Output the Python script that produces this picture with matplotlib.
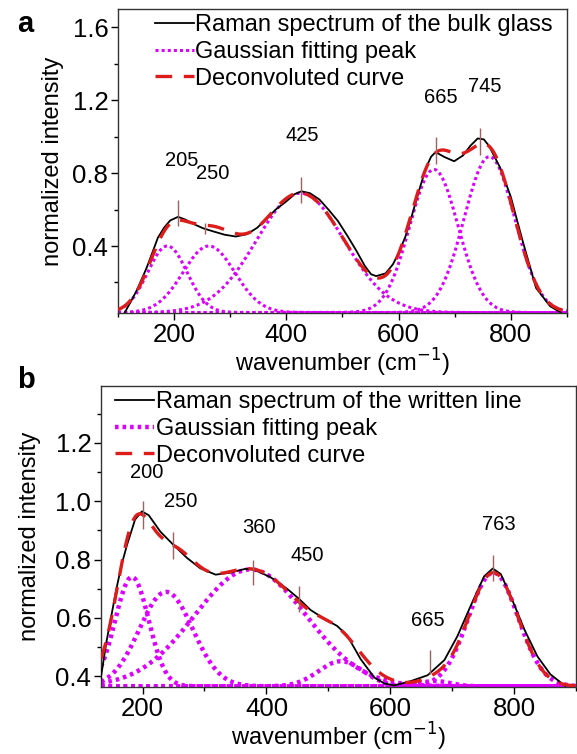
import numpy as np
import matplotlib.pyplot as plt
from matplotlib.ticker import MultipleLocator
from matplotlib.lines import Line2D

plt.rcParams['font.family'] = ['Liberation Sans', 'DejaVu Sans']

# ---- panel a: bulk glass ----
raman_a_x = [112, 122, 134, 151, 162, 171, 182, 193, 207, 220, 235, 252, 270, 290, 310, 330,
             348, 365, 381, 400, 415, 427, 442, 459, 475, 492, 510, 525, 540, 551, 560, 577,
             590, 600, 612, 624, 637, 649, 658, 666, 682, 699, 715, 728, 741, 752, 761, 771,
             781, 800, 820, 845, 870, 889]
raman_a_y = [0.035, 0.09, 0.16, 0.28, 0.37, 0.445, 0.50, 0.54, 0.56, 0.545, 0.52, 0.497, 0.48,
             0.462, 0.452, 0.465, 0.50, 0.55, 0.60, 0.645, 0.685, 0.70, 0.69, 0.655, 0.60, 0.537,
             0.45, 0.373, 0.29, 0.245, 0.235, 0.25, 0.30, 0.36, 0.45, 0.57, 0.71, 0.83, 0.89,
             0.915, 0.888, 0.865, 0.897, 0.95, 0.99, 0.985, 0.95, 0.89, 0.83, 0.67, 0.44, 0.17,
             0.07, 0.035]
peak_a_center = [188, 262, 425, 663, 762]
peak_a_height = [0.40, 0.40, 0.69, 0.82, 0.89]
peak_a_width = [35, 46, 78, 43, 45]
base_a = 0.035
marks_a_x = [207, 255, 427, 666, 745]
marks_a_lo = [0.51, 0.464, 0.637, 0.852, 0.90]
marks_a_hi = [0.65, 0.528, 0.78, 0.996, 1.045]
labels_a = ['205', '250', '425', '665', '745']
labels_a_x = [214, 268, 429, 675, 753]
labels_a_y = [0.87, 0.80, 1.005, 1.213, 1.276]

# ---- panel b: written line ----
raman_b_x = [131, 142, 158, 166, 175, 188, 199, 210, 229, 250, 272, 293, 318, 342, 366, 380,
             406, 433, 452, 471, 493, 514, 530, 552, 574, 590, 606, 633, 660, 687, 708, 729,
             751, 765, 778, 794, 816, 837, 858, 882]
raman_b_y = [0.37, 0.52, 0.70, 0.78, 0.85, 0.937, 0.965, 0.952, 0.895, 0.85, 0.805, 0.77, 0.748,
             0.755, 0.768, 0.765, 0.74, 0.70, 0.666, 0.627, 0.597, 0.572, 0.54, 0.458, 0.395,
             0.375, 0.368, 0.383, 0.403, 0.455, 0.537, 0.639, 0.742, 0.769, 0.75, 0.674, 0.56,
             0.468, 0.406, 0.366]
peak_b_center = [183, 238, 374, 520, 672, 766]
peak_b_height = [0.74, 0.689, 0.766, 0.451, 0.383, 0.755]
peak_b_width = [27, 43, 90, 36, 25, 40]
base_b = 0.365
marks_b_x = [200, 249, 378, 452, 663, 765]
marks_b_lo = [0.906, 0.803, 0.712, 0.62, 0.408, 0.725]
marks_b_hi = [1.0, 0.894, 0.80, 0.709, 0.489, 0.814]
labels_b = ['200', '250', '360', '450', '665', '763']
labels_b_x = [207, 262, 388, 465, 660, 774]
labels_b_y = [1.10, 1.00, 0.91, 0.814, 0.591, 0.92]

MAGENTA = '#dd00ff'
RED = '#dd1c1c'
MARK = '#a06060'


def gauss(x, c, h, w, base):
    return base + (h - base) * np.exp(-(x - c) ** 2 / (2 * w ** 2))


def draw_panel(ax, rx, ry, centers, heights, widths, base, xlim, ylim,
               mx, mlo, mhi, labs, lx, ly, raman_label, dot_lw, dot_style, ypad):
    xs = np.linspace(xlim[0], xlim[1], 600)
    total = np.full_like(xs, base)
    for c, h, w in zip(centers, heights, widths):
        g = gauss(xs, c, h, w, base)
        total += g - base
        ax.plot(xs, g, color=MAGENTA, lw=dot_lw, linestyle=dot_style, zorder=2)
    ax.plot(rx, ry, color='black', lw=1.3, zorder=3)
    ax.plot(xs, total, color=RED, lw=2.4, linestyle=(0, (5, 3.5)), zorder=4)
    ax.vlines(mx, mlo, mhi, color=MARK, lw=1.0, zorder=5)
    for t, x, y in zip(labs, lx, ly):
        ax.text(x, y, t, fontsize=14.5, ha='center', va='center')
    ax.set_xlim(*xlim)
    ax.set_ylim(*ylim)
    ax.set_xlabel('wavenumber (cm$^{-1}$)', fontsize=17, labelpad=0)
    ax.set_ylabel('normalized intensity', fontsize=17, labelpad=ypad)
    ax.xaxis.set_major_locator(MultipleLocator(200))
    ax.xaxis.set_minor_locator(MultipleLocator(100))
    ax.tick_params(which='major', labelsize=18.5, length=5, width=1, direction='out', pad=2)
    ax.tick_params(which='minor', length=3, width=1, direction='out')
    for s in ax.spines.values():
        s.set_linewidth(1.0)
        s.set_color('#333333')
    handles = [Line2D([], [], color='black', lw=1.3),
               Line2D([], [], color=MAGENTA, lw=dot_lw, linestyle=dot_style),
               Line2D([], [], color=RED, lw=2.4, linestyle=(0, (5, 3.5)))]
    names = [raman_label, 'Gaussian fitting peak', 'Deconvoluted curve']
    return handles, names


fig = plt.figure(figsize=(5.77, 7.54), dpi=100)
ax_a = fig.add_axes([0.2045, 0.585, 0.778, 0.403])
ax_b = fig.add_axes([0.175, 0.089, 0.824, 0.399])

h, n = draw_panel(ax_a, raman_a_x, raman_a_y, peak_a_center, peak_a_height, peak_a_width,
                  base_a, (100, 900), (0.033, 1.70), marks_a_x, marks_a_lo, marks_a_hi,
                  labels_a, labels_a_x, labels_a_y, 'Raman spectrum of the bulk glass',
                  2.2, (0, (1, 1)), 6)
ax_a.yaxis.set_major_locator(MultipleLocator(0.4))
ax_a.yaxis.set_minor_locator(MultipleLocator(0.2))
ax_a.legend(h, n, loc='upper left', bbox_to_anchor=(0.05, 1.03), frameon=False, fontsize=17,
            handlelength=1.65, handletextpad=0.08, labelspacing=0.2, borderaxespad=0.2)

h, n = draw_panel(ax_b, raman_b_x, raman_b_y, peak_b_center, peak_b_height, peak_b_width,
                  base_b, (133, 900), (0.363, 1.395), marks_b_x, marks_b_lo, marks_b_hi,
                  labels_b, labels_b_x, labels_b_y, 'Raman spectrum of the written line',
                  3.2, (0, (0.8, 0.9)), 10)
ax_b.yaxis.set_major_locator(MultipleLocator(0.2))
ax_b.yaxis.set_minor_locator(MultipleLocator(0.1))
ax_b.legend(h, n, loc='upper left', bbox_to_anchor=(0.0, 1.03), frameon=False, fontsize=17,
            handlelength=1.65, handletextpad=0.1, labelspacing=0.2, borderaxespad=0.2)

fig.text(0.03, 0.987, 'a', fontsize=21, fontweight='bold', va='top')
fig.text(0.03, 0.515, 'b', fontsize=21, fontweight='bold', va='top')

fig.savefig('out.png', dpi=100)
